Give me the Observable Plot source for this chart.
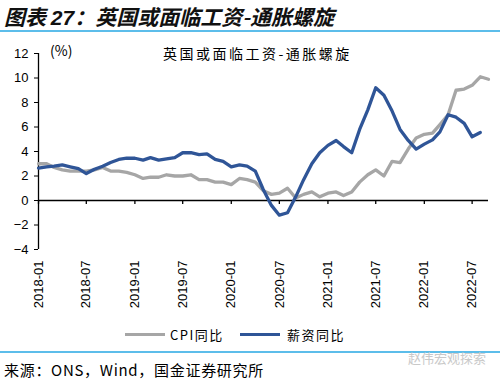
<!DOCTYPE html>
<html><head><meta charset="utf-8">
<script src="https://cdn.jsdelivr.net/npm/d3@7"></script>
<script src="https://cdn.jsdelivr.net/npm/@observablehq/plot@0.6"></script>
<style>
body{margin:0;width:500px;height:381px;background:#fff;position:relative;overflow:hidden;font-family:"Liberation Sans",Arial,sans-serif}
#title{position:absolute;left:4px;top:2px;font-size:21px;font-style:italic;font-weight:bold;font-family:"Noto Sans CJK SC",sans-serif;color:#111;white-space:nowrap;line-height:28px}
#title b{font-family:"Liberation Sans",Arial,sans-serif;font-style:italic}
.rule{position:absolute;left:0;width:500px;height:2px;background:#5cbdea}
#chart{position:absolute;left:0;top:33px}
#pct{position:absolute;left:50px;top:41px;font-size:14px;font-family:"Noto Sans CJK SC",sans-serif;line-height:18px}
#inner{position:absolute;left:163px;top:44px;font-size:14px;font-family:"Noto Sans CJK SC",sans-serif;letter-spacing:2.5px;line-height:18px;white-space:nowrap}
.lg{position:absolute;top:333px;height:3px;width:40px}
.lt{position:absolute;top:326px;font-size:13px;font-family:"Noto Sans CJK SC",sans-serif;line-height:18px;letter-spacing:1.5px;white-space:nowrap}
#src{position:absolute;left:4px;top:360px;font-size:15px;font-family:"Noto Sans CJK SC",sans-serif;line-height:20px;letter-spacing:0.7px;white-space:nowrap}
#wm{position:absolute;left:408px;top:348px;font-size:13px;color:#c9c9c9;font-family:"Noto Sans CJK SC",sans-serif;white-space:nowrap}
</style></head>
<body>
<div id="title">图表 <b>27</b>：英国或面临工资-通胀螺旋</div>
<div class="rule" style="top:30px"></div>
<div id="chart"></div>
<div id="pct">(%)</div>
<div id="inner">英国或面临工资-通胀螺旋</div>
<div class="lg" style="left:125px;background:#a6a6a6"></div>
<div class="lt" style="left:170px">CPI同比</div>
<div class="lg" style="left:240px;background:#2f5597"></div>
<div class="lt" style="left:287px">薪资同比</div>
<div class="rule" style="top:351px"></div>
<div id="wm">赵伟宏观探索</div>
<div id="src">来源：ONS，Wind，国金证券研究所</div>
<script>
// monthly positions on the chart's axis
const months = d3.utcMonth.range(new Date(Date.UTC(2018,0,1)), new Date(Date.UTC(2022,9,1)));
// CPI yoy (%)
const cpi = [3.0,3.0,2.7,2.5,2.4,2.4,2.4,2.5,2.7,2.4,2.4,2.3,2.1,
  1.8,1.9,1.9,2.1,2.0,2.0,2.1,1.7,1.7,1.5,1.5,1.3,
  1.8,1.7,1.5,0.8,0.5,0.6,1.0,0.2,0.5,0.7,0.3,0.6,
  0.7,0.4,0.7,1.5,2.1,2.5,2.0,3.2,3.1,4.2,5.1,5.4,
  5.5,6.2,7.0,9.0,9.1,9.4,10.1,9.9];
// wage yoy (%)
const wage = [2.65,2.75,2.8,2.9,2.75,2.6,2.2,2.55,2.8,3.1,3.35,3.45,
  3.45,3.3,3.5,3.3,3.4,3.5,3.9,3.9,3.75,3.8,3.35,3.2,
  2.75,2.9,2.8,2.4,0.9,-0.4,-1.2,-1.0,0.3,1.7,3.0,3.9,
  4.5,4.9,4.4,3.9,5.8,7.4,9.2,8.6,7.3,5.8,4.9,4.2,
  4.6,4.95,5.6,7.0,6.8,6.3,5.2,5.55];
const xTickLabels = ["2018-01","2018-07","2019-01","2019-07","2020-01","2020-07","2021-01","2021-07","2022-01","2022-07"];
const yTicks = [-4,-2,0,2,4,6,8,10,12];

const cpiData = cpi.map((v,i)=>({date:months[i], value:v}));
const wageData = wage.map((v,i)=>({date:months[i], value:v}));
const xTicks = xTickLabels.map(s=>new Date(s+"-01T00:00:00Z"));

const chart = Plot.plot({
  width:500, height:290,
  marginLeft:38, marginRight:12, marginTop:20, marginBottom:74,
  style:{fontFamily:"'Liberation Sans', Arial, sans-serif", fontSize:"13px", color:"#000", background:"transparent"},
  x:{type:"utc", domain:[months[0], months[months.length-1]]},
  y:{domain:[-4,12]},
  marks:[
    Plot.axisY({ticks:yTicks, tickSize:4, tickPadding:6, label:null, fontSize:13, tickFormat:d=>d<0?"−"+Math.abs(d):String(d)}),
    Plot.axisX({ticks:xTicks, tickSize:0, tickPadding:11, tickRotate:-90, label:null, fontSize:13, tickFormat:d3.utcFormat("%Y-%m")}),
    Plot.ruleX([months[0]], {y1:-4, y2:12, stroke:"#000", strokeWidth:1.3}),
    Plot.ruleY([0], {stroke:"#000", strokeWidth:1.3}),
    Plot.ruleX(xTicks, {y1:0, y2:-0.33, stroke:"#000", strokeWidth:1.3}),
    Plot.line(cpiData, {x:"date", y:"value", stroke:"#a6a6a6", strokeWidth:3.3}),
    Plot.line(wageData, {x:"date", y:"value", stroke:"#2f5597", strokeWidth:3.3})
  ]
});
document.getElementById("chart").appendChild(chart);
</script>
</body></html>
